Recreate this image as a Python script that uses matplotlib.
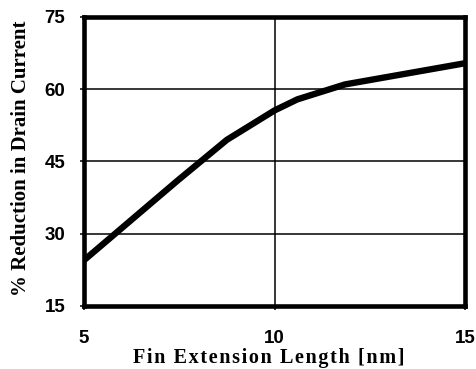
import matplotlib
matplotlib.use("Agg")
import matplotlib.pyplot as plt

x_length = [5, 7.45, 8.75, 10.0, 10.6, 11.85, 15]
y_reduction = [24.5, 41.0, 49.5, 55.6, 57.9, 61.0, 65.4]
x_ticks = [5, 10, 15]
y_ticks = [15, 30, 45, 60, 75]
x_label = "Fin Extension Length [nm]"
y_label = "% Reduction in Drain Current"

fig = plt.figure(figsize=(4.76, 3.69), dpi=100)
ax = fig.add_axes([84/476, 1-306/369, (465-84)/476, (306-17)/369])

ax.plot(x_length, y_reduction, color="black", lw=4.6, solid_capstyle="butt", solid_joinstyle="round", zorder=3)
ax.set_xlim(5, 15)
ax.set_ylim(15, 75)
ax.set_xticks(x_ticks)
ax.set_yticks(y_ticks)
ax.grid(True, color="black", lw=1.1)
ax.set_axisbelow(True)
for s in ax.spines.values():
    s.set_linewidth(3.3)
ax.tick_params(axis="both", length=3, width=1.1, direction="out")
ax.tick_params(axis="x", pad=14.5)
ax.tick_params(axis="y", pad=10.5)
for lab in ax.get_xticklabels() + ax.get_yticklabels():
    lab.set_fontfamily("Liberation Sans")
    lab.set_fontweight("bold")
    lab.set_fontsize(13.5)

spaced = "\u200a".join(x_label)
fig.text(268.5/476, 1-363/369, spaced, family=["Liberation Serif", "DejaVu Serif"], weight="bold",
         fontsize=14.5, ha="center", va="baseline")
fig.text(21/476, 1-158.5/369, y_label, family="Liberation Serif", weight="bold",
         fontsize=15, ha="center", va="center", rotation=90)

fig.savefig("out.png", dpi=100)
